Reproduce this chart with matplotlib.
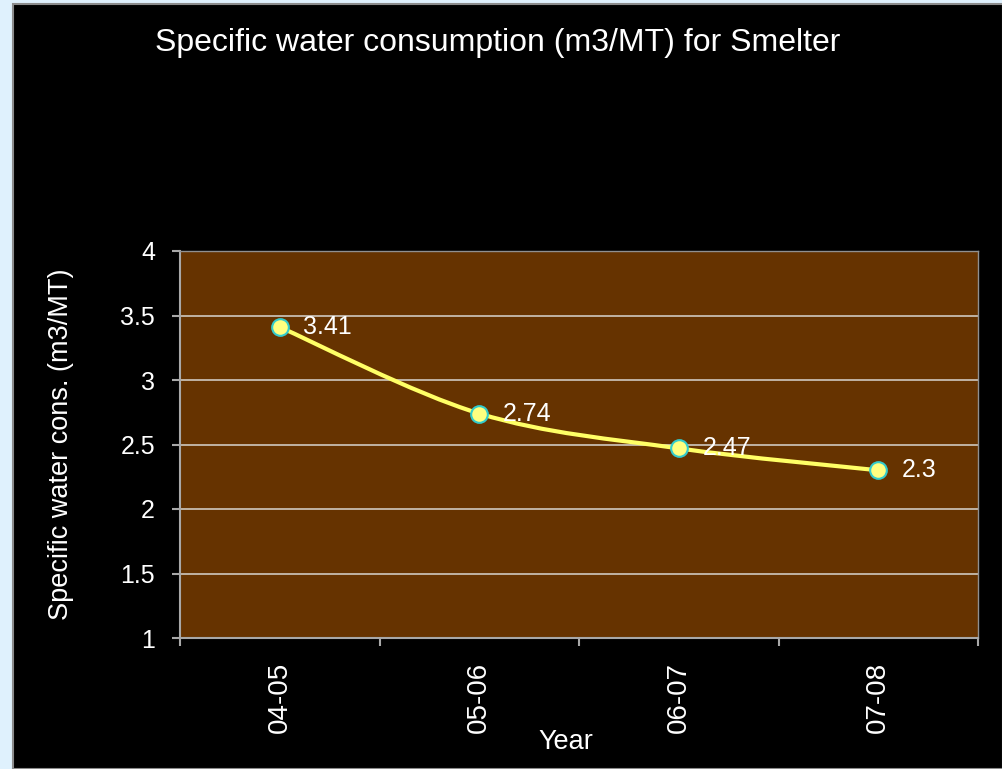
import matplotlib
matplotlib.use("Agg")
import matplotlib.pyplot as plt
import numpy as np
from matplotlib.patches import Rectangle, PathPatch
from matplotlib.path import Path

# ---------------------- DATA ----------------------
years = ["04-05", "05-06", "06-07", "07-08"]
consumption = [3.41, 2.74, 2.47, 2.3]
labels = ["3.41", "2.74", "2.47", "2.3"]
y_ticks = [1, 1.5, 2, 2.5, 3, 3.5, 4]
y_tick_labels = ["1", "1.5", "2", "2.5", "3", "3.5", "4"]
# --------------------------------------------------

plt.rcParams["font.family"] = ["Liberation Sans", "DejaVu Sans"]

W, H = 1003, 769
fig = plt.figure(figsize=(W / 100, H / 100), dpi=100)
fig.patch.set_facecolor("#dff1fd")

# black chart area with thin grey border
fig.patches.append(Rectangle((13 / W, 0), 1 - 13 / W, 1 - 4 / H,
                             transform=fig.transFigure, facecolor="black",
                             edgecolor="#8c8c8c", linewidth=1.5, zorder=-10))

ax = fig.add_axes([180 / W, 1 - 638 / H, 798 / W, 387 / H])
ax.set_zorder(1)
ax.set_facecolor("#663300")

x = np.arange(len(years))
ax.set_xlim(-0.5, len(years) - 0.5)
ax.set_ylim(1, 4)

# gridlines
for yv in y_ticks[1:-1]:
    ax.axhline(yv, color="#cfc8c0", linewidth=1.2, zorder=1)

# smoothed line, drawn as bezier segments (Catmull-Rom style, like Excel)
pts = np.column_stack([x, consumption])
verts = [pts[0]]
codes = [Path.MOVETO]
t = 1.0 / 6
for i in range(len(pts) - 1):
    p0 = pts[i - 1] if i > 0 else pts[i]
    p1 = pts[i]
    p2 = pts[i + 1]
    p3 = pts[i + 2] if i + 2 < len(pts) else pts[i + 1]
    c1 = p1 + (p2 - p0) * t
    c2 = p2 - (p3 - p1) * t
    verts += [c1, c2, p2]
    codes += [Path.CURVE4] * 3
ax.add_patch(PathPatch(Path(verts, codes), facecolor="none",
                       edgecolor="#ffff66", linewidth=3, zorder=3))

ax.plot(x, consumption, linestyle="none", marker="o", markersize=12,
        markerfacecolor="#ffff80", markeredgecolor="#33cccc",
        markeredgewidth=1.5, zorder=4)

for xi, yi, lab in zip(x, consumption, labels):
    ax.annotate(lab, (xi, yi), xytext=(17, 0), textcoords="offset points",
                color="white", fontsize=18, va="center", ha="left", zorder=5)

# axes styling
for side in ["top", "right"]:
    ax.spines[side].set_color("#909090")
    ax.spines[side].set_linewidth(1)
for side in ["left", "bottom"]:
    ax.spines[side].set_color("#a8a8a8")
    ax.spines[side].set_linewidth(1.5)

ax.set_yticks(y_ticks)
ax.set_yticklabels(y_tick_labels)
ax.set_xticks(np.arange(len(years) + 1) - 0.5, minor=False)
ax.set_xticklabels([])
ax.set_xticks(x, minor=True)
ax.set_xticklabels(years, minor=True, rotation=90, va="top")
ax.tick_params(axis="x", which="minor", length=0, pad=17, colors="white",
               labelsize=20)
ax.tick_params(axis="x", which="major", length=6, width=1.5, color="#a8a8a8",
               direction="out")
ax.tick_params(axis="y", length=6, width=1.5, color="#a8a8a8",
               labelcolor="white", labelsize=18, pad=12)

fig.text(61 / W, 1 - 444 / H, "Specific water cons. (m3/MT)", color="white",
         fontsize=19.5, rotation=90, ha="center", va="center")
fig.text(566 / W, 1 - 742 / H, "Year", color="white", fontsize=19.5,
         ha="center", va="center")

fig.text(498 / W, 1 - 43 / H,
         "Specific water consumption (m3/MT) for Smelter",
         color="white", fontsize=23, ha="center", va="center")

fig.savefig("out.png", dpi=100, facecolor=fig.get_facecolor())
